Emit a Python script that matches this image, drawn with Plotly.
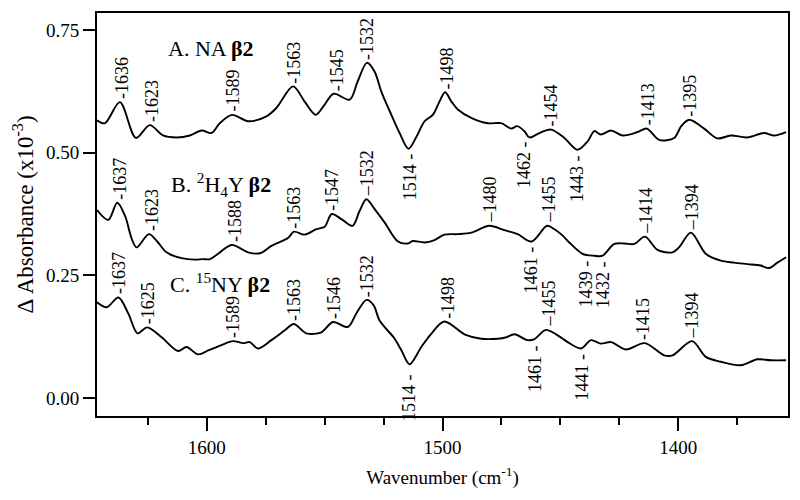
import numpy as np
import plotly.graph_objects as go

# ---------------- data ----------------
wn_a = [1646.6, 1643.2, 1636.9, 1630.1, 1624.2, 1618.6, 1612.8, 1607.2, 1602.2, 1598.0,
        1594.5, 1589.3, 1582.5, 1574.7, 1570.5, 1563.4, 1558.5, 1553.8, 1550.0, 1546.2,
        1539.4, 1536.0, 1532.1, 1528.8, 1526.0, 1521.7, 1518.2, 1514.4, 1511.0, 1507.6,
        1504.1, 1501.3, 1498.9, 1496.2, 1493.5, 1487.8, 1480.8, 1475.1, 1470.9, 1468.3,
        1465.3, 1463.1, 1458.9, 1453.9, 1448.3, 1442.7, 1438.4, 1435.6, 1432.8, 1428.5,
        1423.6, 1417.2, 1413.3, 1408.1, 1401.7, 1398.7, 1395.3, 1389.0, 1383.3, 1377.7,
        1370.6, 1363.6, 1359.3, 1354.2]
abs_a = [0.566, 0.560, 0.603, 0.530, 0.556, 0.535, 0.531, 0.535, 0.545, 0.540,
         0.560, 0.577, 0.564, 0.574, 0.591, 0.635, 0.604, 0.577, 0.598, 0.620,
         0.608, 0.645, 0.683, 0.665, 0.625, 0.577, 0.540, 0.508, 0.533, 0.564,
         0.577, 0.604, 0.623, 0.604, 0.588, 0.571, 0.560, 0.560, 0.549, 0.554,
         0.544, 0.531, 0.540, 0.547, 0.530, 0.506, 0.523, 0.544, 0.537, 0.545,
         0.535, 0.542, 0.549, 0.526, 0.530, 0.554, 0.567, 0.549, 0.529, 0.535,
         0.531, 0.540, 0.535, 0.542]

wn_b = [1646.6, 1641.8, 1638.0, 1634.7, 1631.9, 1629.8, 1624.6, 1621.2, 1617.1, 1610.7,
        1605.1, 1601.7, 1598.7, 1595.2, 1589.5, 1582.5, 1577.5, 1572.6, 1565.6, 1563.0,
        1558.5, 1553.5, 1550.0, 1547.0, 1542.4, 1538.1, 1535.2, 1532.3, 1528.8, 1524.6,
        1518.9, 1514.7, 1512.6, 1507.6, 1503.4, 1499.2, 1493.5, 1487.8, 1480.1, 1473.7,
        1468.1, 1462.2, 1455.6, 1452.5, 1449.0, 1446.2, 1440.6, 1435.6, 1432.1, 1427.1,
        1422.9, 1418.6, 1414.1, 1408.8, 1402.4, 1399.6, 1394.6, 1388.3, 1381.9, 1376.3,
        1370.6, 1365.0, 1361.4, 1357.9, 1354.2]
abs_b = [0.383, 0.363, 0.398, 0.371, 0.325, 0.307, 0.334, 0.320, 0.297, 0.285,
         0.282, 0.283, 0.283, 0.294, 0.312, 0.297, 0.295, 0.310, 0.326, 0.339,
         0.333, 0.344, 0.349, 0.375, 0.363, 0.351, 0.381, 0.405, 0.385, 0.358,
         0.319, 0.315, 0.320, 0.317, 0.322, 0.333, 0.334, 0.337, 0.351, 0.342,
         0.334, 0.319, 0.351, 0.344, 0.331, 0.317, 0.294, 0.290, 0.290, 0.314,
         0.315, 0.314, 0.329, 0.302, 0.297, 0.307, 0.337, 0.294, 0.280, 0.276,
         0.273, 0.270, 0.265, 0.276, 0.287]

wn_c = [1646.6, 1642.5, 1637.5, 1633.3, 1629.4, 1625.3, 1619.2, 1612.2, 1608.6, 1603.7,
        1599.4, 1593.8, 1588.9, 1584.6, 1581.8, 1578.3, 1572.6, 1566.9, 1563.1, 1557.8,
        1551.4, 1546.5, 1540.1, 1536.4, 1532.2, 1529.2, 1526.7, 1520.3, 1517.4, 1514.0,
        1509.0, 1504.8, 1499.2, 1490.7, 1483.6, 1476.6, 1472.9, 1469.5, 1463.9, 1461.0,
        1456.1, 1449.0, 1446.9, 1441.2, 1437.0, 1432.8, 1428.5, 1422.2, 1414.2, 1405.9,
        1402.4, 1394.1, 1388.3, 1381.9, 1373.4, 1366.4, 1360.7, 1354.2]
abs_c = [0.195, 0.185, 0.205, 0.172, 0.132, 0.144, 0.124, 0.096, 0.104, 0.089,
         0.097, 0.108, 0.116, 0.112, 0.114, 0.101, 0.118, 0.138, 0.151, 0.132,
         0.134, 0.155, 0.145, 0.174, 0.200, 0.189, 0.158, 0.121, 0.097, 0.069,
         0.104, 0.131, 0.156, 0.130, 0.121, 0.121, 0.124, 0.130, 0.118, 0.120,
         0.139, 0.121, 0.114, 0.101, 0.118, 0.111, 0.114, 0.099, 0.112, 0.087,
         0.087, 0.116, 0.084, 0.074, 0.067, 0.079, 0.077, 0.077]

peaks_a = [1636, 1623, 1589, 1563, 1545, 1532, 1498, 1454, 1413, 1395]
troughs_a = [1514, 1462, 1443]
peaks_b = [1637, 1623, 1588, 1563, 1547, 1532, 1480, 1455, 1414, 1394]
troughs_b = [1461, 1439, 1432]
peaks_c = [1637, 1625, 1589, 1563, 1546, 1532, 1498, 1455, 1415, 1394]
troughs_c = [1514, 1461, 1441]

series_labels = ["A. NA <b>β2</b>",
                 "B. <sup>2</sup>H<sub>4</sub>Y <b>β2</b>",
                 "C. <sup>15</sup>NY <b>β2</b>"]

x_ticks = [1600, 1500, 1400]
y_ticks = [0.00, 0.25, 0.50, 0.75]

FONT = "Liberation Serif, Times New Roman, serif"

fig = go.Figure()
for wn, ab in [(wn_a, abs_a), (wn_b, abs_b), (wn_c, abs_c)]:
    fig.add_trace(go.Scatter(x=wn, y=ab, mode="lines",
                             line=dict(color="black", width=1.9, shape="spline", smoothing=0.9),
                             showlegend=False, hoverinfo="skip"))

long_dash = {("b", 1532), ("b", 1480), ("b", 1455), ("b", 1414), ("b", 1394),
             ("c", 1394), ("c", 1455)}
trough_shift = {("c", 1514): -8, ("a", 1462): -2}
trough_xshift = {("a", 1462): -8, ("b", 1461): -4}

def local_ext(wn, ab, center, kind):
    w = np.asarray(wn)[::-1]
    a = np.asarray(ab)[::-1]
    grid = np.linspace(center - 2.5, center + 2.5, 26)
    vals = np.interp(grid, w, a)
    return vals.max() if kind == "max" else vals.min()

LAB = 18
ann = []
for key, wn, ab, pk, tr in [("a", wn_a, abs_a, peaks_a, troughs_a),
                            ("b", wn_b, abs_b, peaks_b, troughs_b),
                            ("c", wn_c, abs_c, peaks_c, troughs_c)]:
    for p in pk:
        d = "–" if (key, p) in long_dash else "-"
        ann.append(dict(x=p, y=local_ext(wn, ab, p, "max"), text=f"{d}{p}",
                        textangle=-90, xanchor="center", yanchor="bottom", yshift=1,
                        showarrow=False, font=dict(family=FONT, size=LAB, color="black")))
    for t in tr:
        ann.append(dict(x=t, y=local_ext(wn, ab, t, "min"), text=f"{t} -",
                        textangle=-90, xanchor="center", yanchor="top",
                        yshift=trough_shift.get((key, t), -3),
                        xshift=trough_xshift.get((key, t), 0),
                        showarrow=False, font=dict(family=FONT, size=LAB, color="black")))

for txt, (lx, ly) in zip(series_labels, [(1617.5, 0.712), (1616.0, 0.436), (1616.5, 0.235)]):
    ann.append(dict(x=lx, y=ly, text=txt, xanchor="left", yanchor="middle", showarrow=False,
                    font=dict(family=FONT, size=22, color="black")))

# the page body adds an 8px offset, so the figure is 8px smaller and its margins adjusted
fig.update_layout(
    width=792, height=492,
    margin=dict(l=89, r=12, t=3, b=84),
    paper_bgcolor="white", plot_bgcolor="white",
    font=dict(family=FONT, color="black"),
    annotations=ann,
    xaxis=dict(range=[1646.6, 1353.4], tickvals=x_ticks, ticktext=[str(v) for v in x_ticks],
               ticks="outside", ticklen=13, tickwidth=1.6, tickcolor="black",
               minor=dict(dtick=25, tick0=1400, ticks="outside", ticklen=7, tickwidth=1.6,
                          tickcolor="black", showgrid=False),
               showline=True, linecolor="black", linewidth=2, mirror=True,
               showgrid=False, zeroline=False,
               tickfont=dict(family=FONT, size=19, color="black"),
               title=dict(text="Wavenumber (cm<sup>-1</sup>)", standoff=14,
                          font=dict(family=FONT, size=19, color="black"))),
    yaxis=dict(range=[-0.0365, 0.7845], tickvals=y_ticks, ticktext=[f"{v:.2f}" for v in y_ticks],
               ticks="outside", ticklen=12, tickwidth=1.6, tickcolor="black",
               showline=True, linecolor="black", linewidth=2, mirror=True,
               showgrid=False, zeroline=False,
               tickfont=dict(family=FONT, size=19, color="black"),
               title=dict(text="Δ Absorbance (x10<sup>-3</sup>)", standoff=6,
                          font=dict(family=FONT, size=23, color="black"))),
)

fig.write_html("out.html")
